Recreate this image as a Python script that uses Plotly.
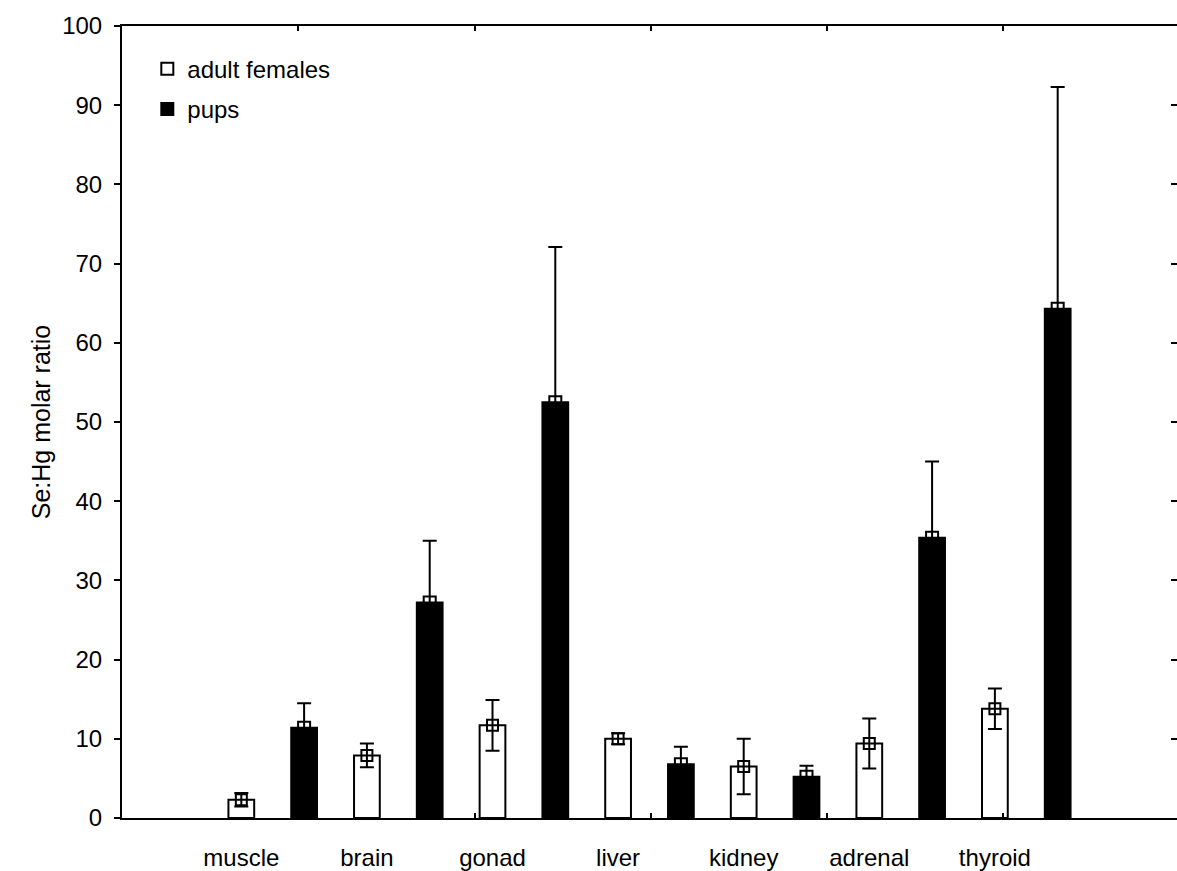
import plotly.graph_objects as go

categories = ["muscle", "brain", "gonad", "liver", "kidney", "adrenal", "thyroid"]
adult_mean = [2.3, 7.9, 11.7, 10.0, 6.5, 9.4, 13.8]
adult_err = [0.85, 1.5, 3.2, 0.7, 3.5, 3.15, 2.55]
pup_mean = [11.4, 27.2, 52.5, 6.8, 5.2, 35.4, 64.3]
pup_err = [3.1, 7.8, 19.6, 2.2, 1.4, 9.6, 28.0]
y_ticks = list(range(0, 101, 10))

adult_x = [2 * i for i in range(len(categories))]
pup_x = [2 * i + 1 for i in range(len(categories))]

FONT = "Liberation Sans, Arial, sans-serif"
FS = 24
fig = go.Figure()

fig.add_trace(go.Bar(
    x=adult_x, y=adult_mean, width=0.41, name="adult females",
    marker=dict(color="white", line=dict(color="black", width=2)),
    legendgroup="a", showlegend=True,
))
fig.add_trace(go.Bar(
    x=pup_x, y=pup_mean, width=0.41, name="pups",
    marker=dict(color="black", line=dict(color="black", width=2)),
    legendgroup="b", showlegend=True,
))
fig.add_trace(go.Scatter(
    x=adult_x, y=adult_mean, mode="markers", showlegend=False,
    marker=dict(symbol="square-open", size=11, color="black", line=dict(width=2)),
    error_y=dict(type="data", array=adult_err, visible=True, color="black",
                 thickness=2, width=7),
))
fig.add_trace(go.Scatter(
    x=pup_x, y=pup_mean, mode="markers", showlegend=False,
    marker=dict(symbol="square-open", size=12, color="black", line=dict(width=2)),
    error_y=dict(type="data", array=pup_err, visible=True, color="black",
                 thickness=2, width=7),
))
# invisible traces to activate secondary axes
fig.add_trace(go.Scatter(x=[None], y=[None], xaxis="x2", yaxis="y", showlegend=False))
fig.add_trace(go.Scatter(x=[None], y=[None], xaxis="x", yaxis="y2", showlegend=False))

fig.update_layout(
    width=1177, height=871,
    margin=dict(l=122, r=0, t=26, b=50),
    paper_bgcolor="white", plot_bgcolor="white",
    barmode="overlay",
    font=dict(family=FONT, size=FS, color="black"),
    xaxis=dict(
        range=[-1.9, 14.9], tickmode="array", tickvals=adult_x, ticktext=categories,
        ticks="", showgrid=False, zeroline=False, showline=True, linewidth=2,
        linecolor="black", ticklabelstandoff=17, tickfont=dict(size=FS),
    ),
    xaxis2=dict(
        overlaying="x", side="top", anchor="y", range=[0, 5.985],
        tickvals=[1, 2, 3, 4, 5], ticks="inside", ticklen=5, tickwidth=2,
        tickcolor="black", showticklabels=False, showgrid=False, zeroline=False,
        showline=True, linewidth=2, linecolor="black", mirror="ticks",
    ),
    yaxis=dict(
        range=[0, 100], tickvals=y_ticks, ticks="outside", ticklen=6, tickwidth=2,
        tickcolor="black", showgrid=False, zeroline=False, showline=True,
        linewidth=2, linecolor="black", ticklabelstandoff=7,
        title=dict(text="Se:Hg molar ratio", font=dict(size=25), standoff=4),
        tickfont=dict(size=FS),
    ),
    yaxis2=dict(
        overlaying="y", side="right", anchor="x", range=[0, 100], tickvals=y_ticks,
        ticks="inside", ticklen=6, tickwidth=2, tickcolor="black",
        showticklabels=False, showgrid=False, zeroline=False, showline=False,
    ),
    legend=dict(
        x=0.024, y=0.974, xanchor="left", yanchor="top",
        bgcolor="rgba(0,0,0,0)", font=dict(size=FS), traceorder="grouped",
        tracegroupgap=6, itemwidth=30,
    ),
)

fig.write_html("out.html")
